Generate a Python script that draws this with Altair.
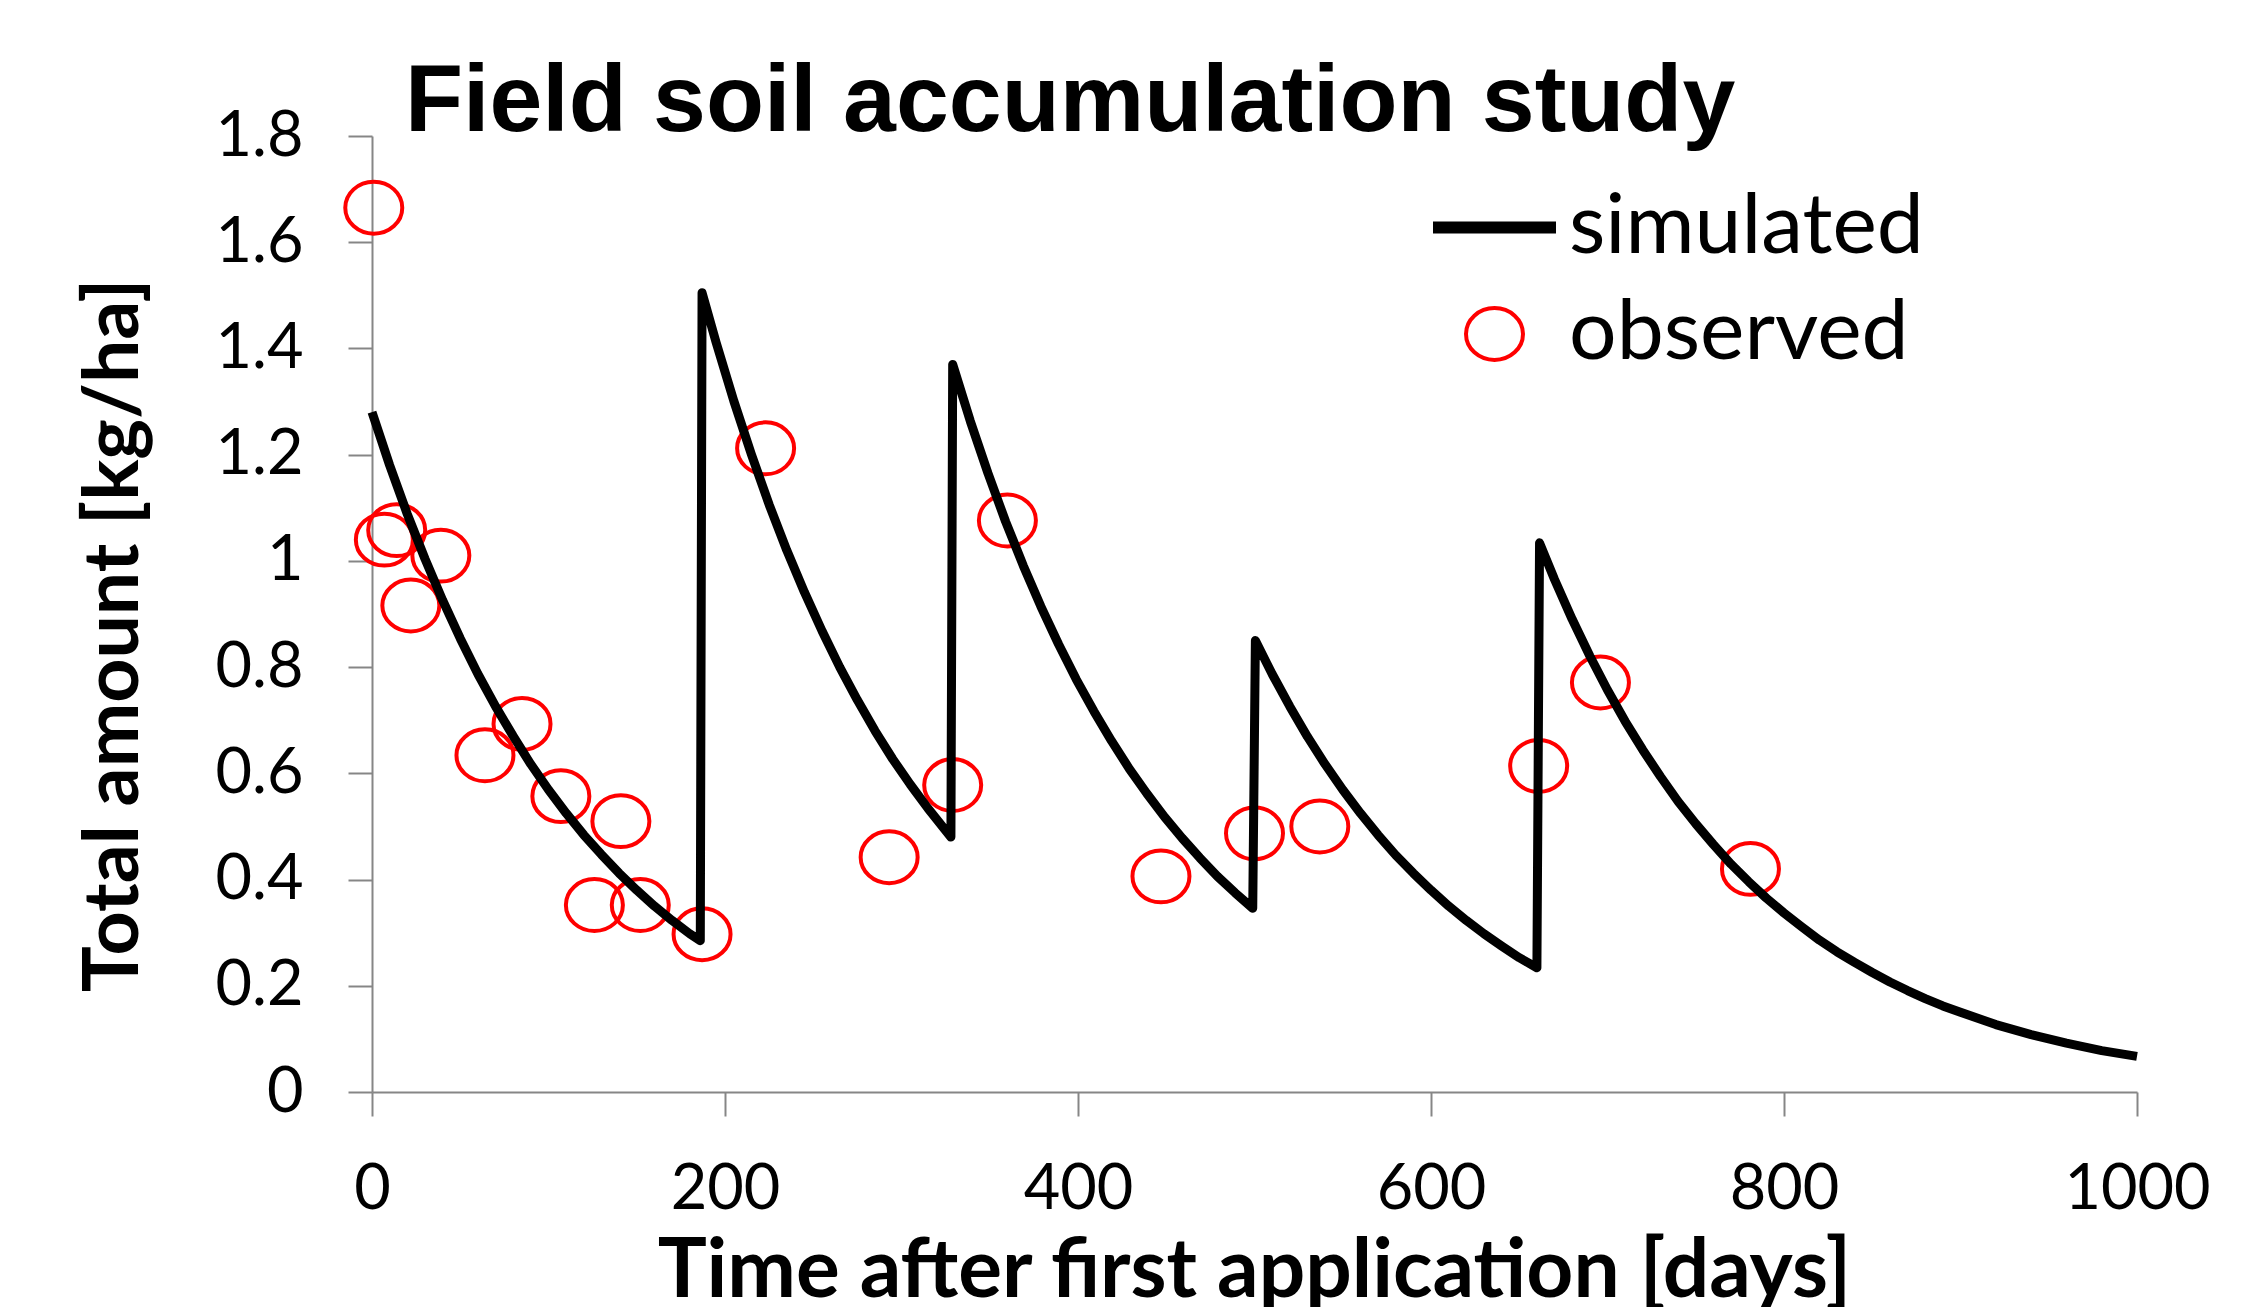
import altair as alt
import pandas as pd

# ---- data ----
sim_day = [0, 10, 20, 30, 40, 50, 60, 70, 80, 90, 100, 110, 120, 130, 140, 150, 160, 170, 180, 186,
           187, 195, 205, 215, 225, 235, 245, 255, 265, 275, 285, 295, 305, 315, 328,
           329, 339, 349, 359, 369, 379, 389, 399, 409, 419, 429, 439, 449, 459, 469, 479, 489, 499,
           500.5, 510, 520, 530, 540, 550, 560, 570, 580, 590, 600, 610, 620, 630, 640, 650, 660,
           661.5, 670, 680, 690, 700, 710, 720, 730, 740, 750, 760, 770, 780, 790, 800, 810, 820,
           830, 840, 850, 860, 870, 880, 890, 900, 920, 940, 960, 980, 1000]
sim_amount = [1.28, 1.18, 1.088, 1.004, 0.926, 0.854, 0.787, 0.726, 0.67, 0.617, 0.569, 0.525,
              0.484, 0.447, 0.412, 0.38, 0.35, 0.323, 0.298, 0.285,
              1.505, 1.411, 1.301, 1.2, 1.106, 1.02, 0.941, 0.868, 0.8, 0.738, 0.68, 0.627,
              0.579, 0.534, 0.48,
              1.37, 1.263, 1.165, 1.074, 0.991, 0.914, 0.843, 0.777, 0.717, 0.661, 0.609, 0.562,
              0.518, 0.478, 0.441, 0.406, 0.375, 0.346,
              0.85, 0.787, 0.726, 0.669, 0.617, 0.569, 0.525, 0.484, 0.446, 0.412, 0.38, 0.35,
              0.323, 0.298, 0.275, 0.253, 0.234,
              1.034, 0.965, 0.89, 0.821, 0.757, 0.698, 0.644, 0.594, 0.547, 0.505, 0.466, 0.429,
              0.396, 0.365, 0.337, 0.311, 0.286, 0.264, 0.244, 0.225, 0.207, 0.191, 0.176, 0.162,
              0.15, 0.127, 0.108, 0.092, 0.078, 0.067]

obs_day = [1, 7, 14, 22, 39, 64, 85, 107, 126, 141, 152, 187, 223, 293, 329, 360,
           447, 500, 537, 661, 696, 781]
obs_amount = [1.665, 1.040, 1.058, 0.916, 1.010, 0.634, 0.693, 0.557, 0.352, 0.510,
              0.352, 0.297, 1.212, 0.442, 0.578, 1.076, 0.406, 0.487, 0.500, 0.614,
              0.771, 0.420]

x_ticks = [0, 200, 400, 600, 800, 1000]
y_ticks = [0, 0.2, 0.4, 0.6, 0.8, 1.0, 1.2, 1.4, 1.6, 1.8]
series_names = ["simulated", "observed"]
title_text = "Field soil accumulation study"
x_title = "Time after first application [days]"
y_title = "Total amount [kg/ha]"

ellipse = "M-1,0A1,0.91,0,1,1,1,0A1,0.91,0,1,1,-1,0Z"

sim_df = pd.DataFrame({"day": sim_day, "amount": sim_amount,
                       "series": "simulated", "idx": list(range(len(sim_day)))})
obs_df = pd.DataFrame({"day": obs_day, "amount": obs_amount, "series": "observed"})

legend = alt.Legend(
    title=None, orient="none", legendX=1055, legendY=24,
    labelFont="Lato", labelFontSize=84, labelColor="black", labelOffset=7,
    labelLimit=0, rowPadding=22, padding=0, symbolFillColor="transparent",
)

x_enc = alt.X("day:Q", scale=alt.Scale(domain=[0, 1000], nice=False, zero=False),
              axis=alt.Axis(values=x_ticks, format="d", title=x_title,
                            labelPadding=42, titleY=204, titleX=882, titleFontSize=82,
                            titleAlign="center", titleBaseline="alphabetic"))
y_enc = alt.Y("amount:Q", scale=alt.Scale(domain=[0, 1.8], nice=False),
              axis=alt.Axis(values=y_ticks, format=".1~f", title=y_title,
                            labelPadding=45, titleAngle=270, titleX=-235, titleY=499,
                            titleFontSize=77, titleAlign="center", titleBaseline="alphabetic"))

color = alt.Color("series:N", scale=alt.Scale(domain=series_names, range=["#000000", "#FF0000"]),
                  legend=legend)
shape = alt.Shape("series:N", scale=alt.Scale(domain=series_names, range=["stroke", ellipse]),
                  legend=legend)
size = alt.Size("series:N", scale=alt.Scale(type="ordinal", domain=series_names, range=[15129, 3249]),
                legend=legend)
sw = alt.StrokeWidth("series:N", scale=alt.Scale(type="ordinal", domain=series_names, range=[12, 4]),
                     legend=legend)

points = alt.Chart(obs_df).mark_point(filled=False, opacity=1).encode(
    x=x_enc, y=y_enc, color=color, shape=shape, size=size, strokeWidth=sw)

line = alt.Chart(sim_df).mark_line(strokeWidth=9, strokeJoin="round").encode(
    x=x_enc, y=y_enc, color=color, order="idx:Q")

chart = alt.layer(points, line).properties(
    width=1765, height=956,
    background="white",
    autosize=alt.AutoSizeParams(type="none"),
    padding={"left": 372, "top": 136, "right": 127, "bottom": 215},
    title=alt.TitleParams(title_text, font="Liberation Sans", fontWeight="bold", fontSize=95,
                          color="black", anchor="start", frame="group", dx=33, dy=121,
                          baseline="alphabetic", offset=0),
).configure_view(stroke=None).configure_axis(
    grid=False, domainColor="#868686", domainWidth=2, tickColor="#868686", tickWidth=2,
    tickSize=24, labelFont="Lato", labelFontSize=63, labelColor="black",
    titleFont="Lato", titleFontWeight="bold", titleColor="black",
    labelFlush=False, labelOverlap=False,
)

chart.save("out.html", embed_options={"renderer": "svg", "actions": False})
